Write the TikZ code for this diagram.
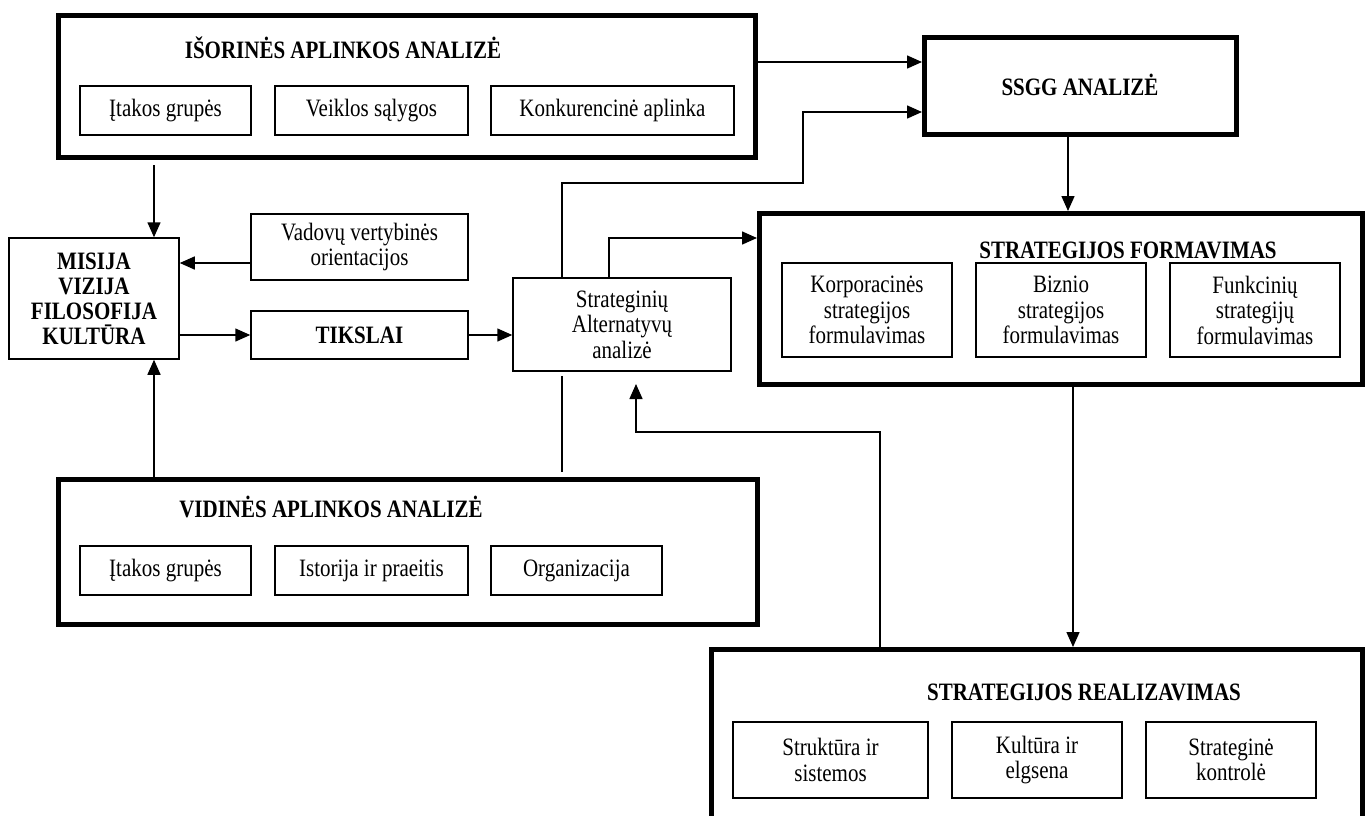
\documentclass[tikz,border=0pt]{standalone}
\usepackage{fontspec}
\setmainfont{Liberation Serif}[FakeStretch=0.84]
\usetikzlibrary{arrows.meta}
\begin{document}
\begin{tikzpicture}[x=1pt,y=-1pt,
  every node/.style={font=\fontsize{25}{25.5}\selectfont, inner sep=0pt},
  thickbox/.style={draw, line width=5pt},
  tbox/.style={draw, line width=1.5pt, align=center},
  ttl/.style={font=\fontsize{25}{25.5}\selectfont\bfseries, align=center},
  conn/.style={line width=1.5pt},
  arr/.style={conn, -{Triangle[length=15pt,width=13pt]}}]
\useasboundingbox (0,0) rectangle (1369,815);
\fill[white] (0,0) rectangle (1369,815);

% thick frames
\node[thickbox, minimum width=697pt, minimum height=142pt] (isor) at (407,86.5) {};
\node[thickbox, minimum width=312pt, minimum height=97pt] (ssgg) at (1080.5,86) {};
\node[thickbox, minimum width=603pt, minimum height=171pt] (form) at (1061,299) {};
\node[thickbox, minimum width=699pt, minimum height=145pt] (vid) at (408,552) {};
\node[thickbox, minimum width=651pt, minimum height=175pt] (real) at (1037,737) {};

% titles
\node[ttl] (isort) at (343,48) {IŠORINĖS APLINKOS ANALIZĖ};
\node[ttl] (ssggt) at (1080,85) {SSGG ANALIZĖ};
\node[ttl] (formt) at (1128,250) {STRATEGIJOS FORMAVIMAS};
\node[ttl] (vidt) at (331,507) {VIDINĖS APLINKOS ANALIZĖ};
\node[ttl] (realt) at (1084,692) {STRATEGIJOS REALIZAVIMAS};

% inner boxes
\node[tbox, minimum width=171pt, minimum height=49pt] (i1) at (165.5,110.5) {Įtakos grupės};
\node[tbox, minimum width=193pt, minimum height=49pt] (i2) at (371.5,110.5) {Veiklos sąlygos};
\node[tbox, minimum width=243pt, minimum height=49pt] (i3) at (612.5,110.5) {Konkurencinė aplinka};

\node[tbox, minimum width=170pt, minimum height=121pt, font=\fontsize{25}{25}\selectfont\bfseries] (misija) at (94,298.5) {MISIJA\\VIZIJA\\FILOSOFIJA\\KULTŪRA};
\node[tbox, minimum width=217pt, minimum height=66pt] (vadovu) at (359.5,247) {Vadovų vertybinės\\orientacijos};
\node[tbox, minimum width=217pt, minimum height=48pt, font=\fontsize{25}{25}\selectfont\bfseries] (tikslai) at (359.5,335) {TIKSLAI};
\node[tbox, minimum width=218pt, minimum height=93pt] (strat) at (622,324.5) {Strateginių\\Alternatyvų\\analizė};

\node[tbox, minimum width=170pt, minimum height=94pt] (f1) at (867,310) {Korporacinės\\strategijos\\formulavimas};
\node[tbox, minimum width=170pt, minimum height=94pt] (f2) at (1061,310) {Biznio\\strategijos\\formulavimas};
\node[tbox, minimum width=170pt, minimum height=94pt] (f3) at (1255,310) {Funkcinių\\strategijų\\formulavimas};

\node[tbox, minimum width=171pt, minimum height=49pt] (v1) at (165.5,570.5) {Įtakos grupės};
\node[tbox, minimum width=193pt, minimum height=49pt] (v2) at (371.5,570.5) {Istorija ir praeitis};
\node[tbox, minimum width=171pt, minimum height=49pt] (v3) at (576.5,570.5) {Organizacija};

\node[tbox, minimum width=195pt, minimum height=76pt] (r1) at (830.5,760) {Struktūra ir\\sistemos};
\node[tbox, minimum width=170pt, minimum height=76pt] (r2) at (1037,760) {Kultūra ir\\elgsena};
\node[tbox, minimum width=170pt, minimum height=76pt] (r3) at (1231,760) {Strateginė\\kontrolė};

% helper coordinates
\coordinate (y62) at (0,62);
\coordinate (k1) at (562,183);
\coordinate (k2) at (803,112);
\coordinate (k3) at (609,238);
\coordinate (k4) at (1068,0);
\coordinate (k5) at (1073,0);
\coordinate (k6) at (880,432);
\coordinate (k7) at (636,384);
\coordinate (k8) at (154,0);
\coordinate (k9) at (0,263);

% connectors
\draw[arr] (isor.east |- y62) -- (ssgg.west |- y62);
\draw[arr] (strat.north -| k1) -- (k1) -| (k2) -- (ssgg.west |- k2);
\draw[arr] (strat.north -| k3) |- (form.west |- k3);
\draw[arr] (ssgg.south -| k4) -- (form.north -| k4);
\draw[arr] (form.south -| k5) -- (real.north -| k5);
\draw[arr] (real.north -| k6) -- (k6) -| (k7);
\draw[arr, shorten <=5pt] (isor.south -| k8) -- (misija.north -| k8);
\draw[arr] (vid.north -| k8) -- (misija.south -| k8);
\draw[arr] (vadovu.west |- k9) -- (misija.east |- k9);
\draw[arr] (misija.east |- tikslai) -- (tikslai.west);
\draw[arr] (tikslai.east) -- (strat.west |- tikslai);
\draw[conn, shorten <=4pt, shorten >=5pt] (strat.south -| k1) -- (vid.north -| k1);
\end{tikzpicture}
\end{document}
